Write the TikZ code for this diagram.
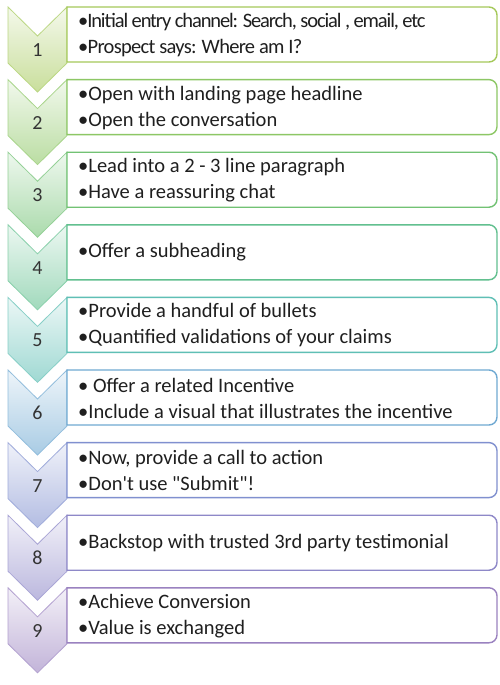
\documentclass[tikz,border=0pt]{standalone}
\usepackage{fontspec}
\setmainfont{Carlito}[Ligatures=TeXOff]
\definecolor{cA}{HTML}{A5C95A}
\definecolor{cB}{HTML}{8DC765}
\definecolor{cC}{HTML}{72C274}
\definecolor{cD}{HTML}{62C08F}
\definecolor{cE}{HTML}{5FBFB5}
\definecolor{cF}{HTML}{6FA9D2}
\definecolor{cG}{HTML}{8090CF}
\definecolor{cH}{HTML}{8E88C8}
\definecolor{cI}{HTML}{9A82C0}
\tikzset{
  chev/.style={draw=#1!75!white, line width=0.8pt, top color=#1!12!white, bottom color=#1!60!white},
  box/.style={draw=#1, line width=1.4pt, fill=white},
  num/.style={inner sep=0pt, font=\fontsize{20}{26}\selectfont, text=black!80},
  txt/.style={anchor=west, align=left, inner sep=0pt, font=\fontsize{20.5}{26}\selectfont, text=black!88}
}
\begin{document}
\begin{tikzpicture}[x=1pt, y=-1pt]
      \fill[white] (0,0) rectangle (500,685);
      \useasboundingbox (0,0) rectangle (500,685);

      % 1
      \draw[chev=cA] (8,7) -- ++(29.5,29) -- ++(29.5,-29) -- ++(0,56) -- ++(-29.5,29) -- ++(-29.5,-29) -- cycle;
      \draw[box=cA] (67,7) -- ++(422,0) arc[start angle=-90, end angle=0, radius=8] -- ++(0,39) arc[start angle=0, end angle=90, radius=8] -- ++(-422,0) -- cycle;
      \node[num] (n1) at (37.5,50) {1};
      \node[txt] (t1) at (78,35) {\addfontfeature{LetterSpace=-5.5}•Initial entry channel: Search, social , email, etc\\\addfontfeature{LetterSpace=-3.5}•Prospect says: Where am I?};

      % 2
      \draw[chev=cB] (8,79.6) -- ++(29.5,29) -- ++(29.5,-29) -- ++(0,56) -- ++(-29.5,29) -- ++(-29.5,-29) -- cycle;
      \draw[box=cB] (67,79.6) -- ++(422,0) arc[start angle=-90, end angle=0, radius=8] -- ++(0,39) arc[start angle=0, end angle=90, radius=8] -- ++(-422,0) -- cycle;
      \node[num] (n2) at (37.5,122.6) {2};
      \node[txt] (t2) at (78,107.6) {•Open with landing page headline\\•Open the conversation};

      % 3
      \draw[chev=cC] (8,152.2) -- ++(29.5,29) -- ++(29.5,-29) -- ++(0,56) -- ++(-29.5,29) -- ++(-29.5,-29) -- cycle;
      \draw[box=cC] (67,152.2) -- ++(422,0) arc[start angle=-90, end angle=0, radius=8] -- ++(0,39) arc[start angle=0, end angle=90, radius=8] -- ++(-422,0) -- cycle;
      \node[num] (n3) at (37.5,195.2) {3};
      \node[txt] (t3) at (78,180.2) {•Lead into a 2 - 3 line paragraph\\•Have a reassuring chat};

      % 4
      \draw[chev=cD] (8,224.8) -- ++(29.5,29) -- ++(29.5,-29) -- ++(0,56) -- ++(-29.5,29) -- ++(-29.5,-29) -- cycle;
      \draw[box=cD] (67,224.8) -- ++(422,0) arc[start angle=-90, end angle=0, radius=8] -- ++(0,39) arc[start angle=0, end angle=90, radius=8] -- ++(-422,0) -- cycle;
      \node[num] (n4) at (37.5,267.8) {4};
      \node[txt] (t4) at (78,252.3) {•Offer a subheading};

      % 5
      \draw[chev=cE] (8,297.4) -- ++(29.5,29) -- ++(29.5,-29) -- ++(0,56) -- ++(-29.5,29) -- ++(-29.5,-29) -- cycle;
      \draw[box=cE] (67,297.4) -- ++(422,0) arc[start angle=-90, end angle=0, radius=8] -- ++(0,39) arc[start angle=0, end angle=90, radius=8] -- ++(-422,0) -- cycle;
      \node[num] (n5) at (37.5,340.4) {5};
      \node[txt] (t5) at (78,325.4) {•Provide a handful of bullets\\•Quantified validations of your claims};

      % 6
      \draw[chev=cF] (8,370) -- ++(29.5,29) -- ++(29.5,-29) -- ++(0,56) -- ++(-29.5,29) -- ++(-29.5,-29) -- cycle;
      \draw[box=cF] (67,370) -- ++(422,0) arc[start angle=-90, end angle=0, radius=8] -- ++(0,39) arc[start angle=0, end angle=90, radius=8] -- ++(-422,0) -- cycle;
      \node[num] (n6) at (37.5,413) {6};
      \node[txt] (t6) at (78,398) {• Offer a related Incentive\\•Include a visual that illustrates the incentive};

      % 7
      \draw[chev=cG] (8,442.6) -- ++(29.5,29) -- ++(29.5,-29) -- ++(0,56) -- ++(-29.5,29) -- ++(-29.5,-29) -- cycle;
      \draw[box=cG] (67,442.6) -- ++(422,0) arc[start angle=-90, end angle=0, radius=8] -- ++(0,39) arc[start angle=0, end angle=90, radius=8] -- ++(-422,0) -- cycle;
      \node[num] (n7) at (37.5,485.6) {7};
      \node[txt] (t7) at (78,470.6) {•Now, provide a call to action\\•Don't use "Submit"!};

      % 8
      \draw[chev=cH] (8,515.2) -- ++(29.5,29) -- ++(29.5,-29) -- ++(0,56) -- ++(-29.5,29) -- ++(-29.5,-29) -- cycle;
      \draw[box=cH] (67,515.2) -- ++(422,0) arc[start angle=-90, end angle=0, radius=8] -- ++(0,39) arc[start angle=0, end angle=90, radius=8] -- ++(-422,0) -- cycle;
      \node[num] (n8) at (37.5,558.2) {8};
      \node[txt] (t8) at (78,542.7) {•Backstop with trusted 3rd party testimonial};

      % 9
      \draw[chev=cI] (8,587.8) -- ++(29.5,29) -- ++(29.5,-29) -- ++(0,56) -- ++(-29.5,29) -- ++(-29.5,-29) -- cycle;
      \draw[box=cI] (67,587.8) -- ++(422,0) arc[start angle=-90, end angle=0, radius=8] -- ++(0,39) arc[start angle=0, end angle=90, radius=8] -- ++(-422,0) -- cycle;
      \node[num] (n9) at (37.5,630.8) {9};
      \node[txt] (t9) at (78,615.8) {•Achieve Conversion\\•Value is exchanged};
    \end{tikzpicture}
\end{document}
